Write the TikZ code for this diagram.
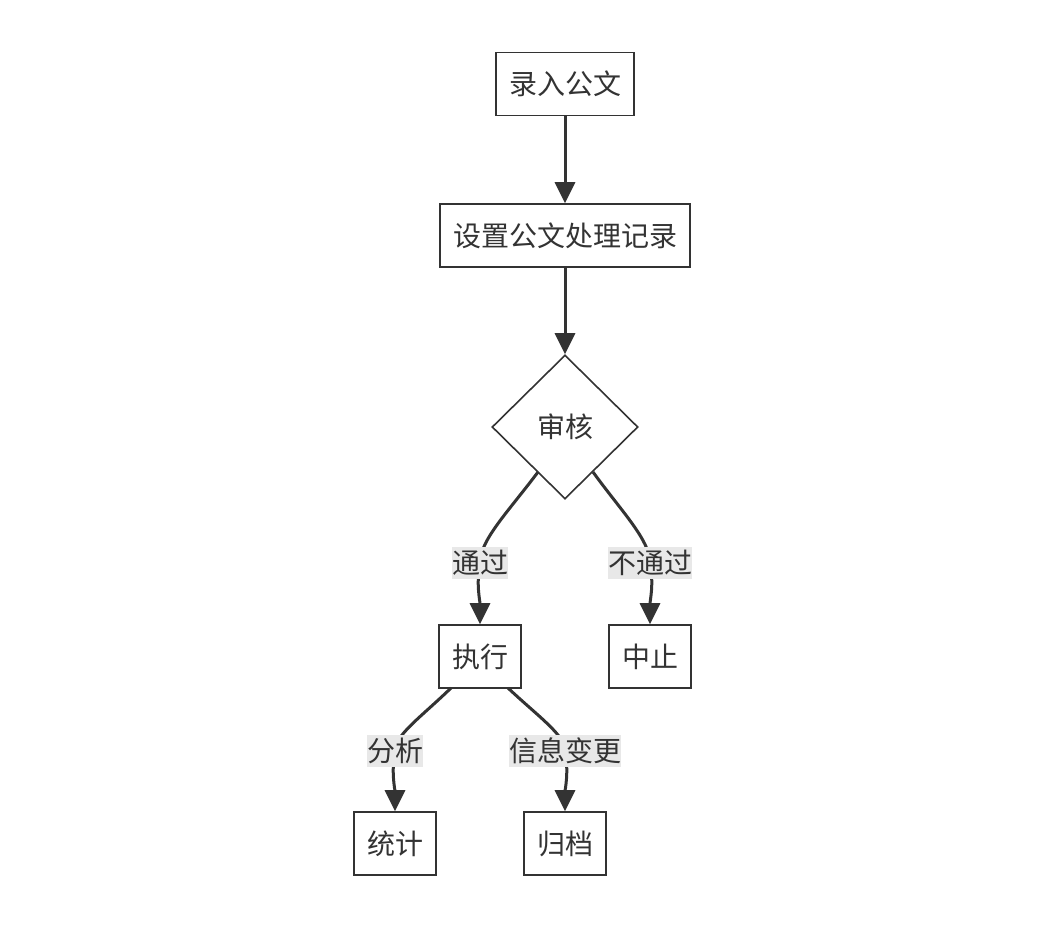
\documentclass[tikz,border=0pt]{standalone}
\usepackage{fontspec}
\setmainfont{Noto Sans CJK SC}
\usetikzlibrary{shapes.geometric,arrows.meta}
\definecolor{ink}{HTML}{333333}
\definecolor{lblbg}{HTML}{E8E8E8}
\tikzset{
  box/.style={draw=ink, line width=1.6pt, fill=white, text=ink, inner sep=0pt, minimum height=63pt, font=\fontsize{28}{30}\selectfont},
  dia/.style={draw=ink, line width=1.6pt, fill=white, text=ink, diamond, aspect=1, inner sep=0pt, minimum width=146pt, minimum height=144pt, font=\fontsize{28}{30}\selectfont},
  lbl/.style={fill=lblbg, text=ink, inner sep=0pt, minimum height=32pt, font=\fontsize{28}{30}\selectfont},
  edge/.style={draw=ink, line width=3pt, -{Triangle[length=21pt,width=20pt]}},
}
\begin{document}
\begin{tikzpicture}[x=1pt,y=-1pt]
\useasboundingbox (0,0) rectangle (1046,932);
\node[box, minimum width=138pt] (a) at (565,84) {录入公文};
\node[box, minimum width=250pt] (b) at (565,235.5) {设置公文处理记录};
\node[dia] (c) at (565,427) {审核};
\node[box, minimum width=82pt] (d) at (480,656.5) {执行};
\node[box, minimum width=82pt] (e) at (650,656.5) {中止};
\node[box, minimum width=82pt] (f) at (395,843.5) {统计};
\node[box, minimum width=82pt] (g) at (565,843.5) {归档};
\coordinate (cl) at (538,472);
\coordinate (cr) at (593,472);
\coordinate (dl) at (451,688);
\coordinate (dr) at (508,688);
\draw[edge] (a.south) -- (b.north);
\draw[edge] (b.south) -- (c.north);
\draw[edge] (cl) .. controls (508,512) and (480,540) .. (480,563) .. controls (476,585) and (480,600) .. (d.north);
\draw[edge] (cr) .. controls (622,512) and (650,540) .. (650,563) .. controls (654,585) and (650,600) .. (e.north);
\draw[edge] (dl) .. controls (420,718) and (395,735) .. (395,751) .. controls (391,772) and (395,790) .. (f.north);
\draw[edge] (dr) .. controls (540,718) and (565,735) .. (565,751) .. controls (569,772) and (565,790) .. (g.north);
\node[lbl, minimum width=56pt] (l1) at (480,563) {通过};
\node[lbl, minimum width=84pt] (l2) at (650,563) {不通过};
\node[lbl, minimum width=56pt] (l3) at (395,751) {分析};
\node[lbl, minimum width=112pt] (l4) at (565,751) {信息变更};
\end{tikzpicture}
\end{document}
